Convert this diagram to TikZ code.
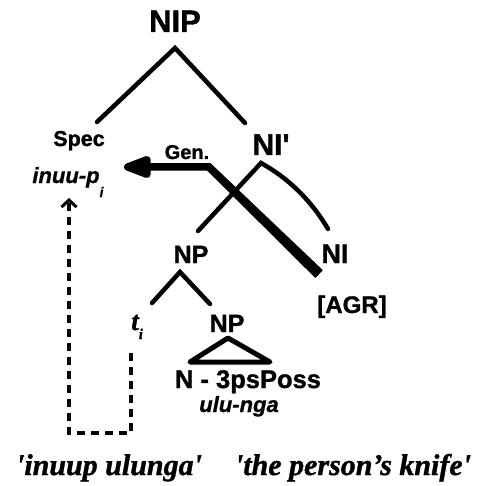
\documentclass[tikz,border=0pt]{standalone}
\usepackage{fontspec}
\setmainfont{Liberation Serif}
\newfontfamily\labfont{Liberation Sans}[Ligatures=TeXOff, BoldFeatures={FakeBold=1.2}, BoldItalicFeatures={FakeBold=0.8}]
\newfontfamily\glossfont{Liberation Serif}[Ligatures=TeXOff, BoldItalicFeatures={FakeBold=1.2}]
\usetikzlibrary{arrows.meta}
\begin{document}
\begin{tikzpicture}[x=1pt,y=-1pt,
  lab/.style={font=\labfont\bfseries\fontsize{#1}{#1}\selectfont, inner sep=0pt, anchor=base},
  itl/.style={font=\labfont\bfseries\itshape\fontsize{#1}{#1}\selectfont, inner sep=0pt, anchor=base},
  gloss/.style={font=\glossfont\bfseries\itshape\fontsize{#1}{#1}\selectfont, inner sep=0pt, anchor=base},
  branch/.style={line width=4.5pt, line cap=round},
  dashline/.style={line width=3.5pt, dash pattern=on 8pt off 6pt},
  genarrow/.style={line width=7.5pt, -{Triangle[length=35pt,width=23pt,round]}},
]
\useasboundingbox (0,0) rectangle (482,486);
\fill[white] (0,0) rectangle (482,486);

% labels
\node[lab=31] (nip) at (175,32) {NIP};
\node[lab=21.5] (spec) at (79,146) {Spec};
\node[itl=22] (inuu) at (66,183) {inuu-p\rlap{\kern0pt\raisebox{-14pt}{\fontsize{14}{14}\selectfont i}}};
\node[lab=30] (nibar) at (271,155) {NI'};
\node[lab=20] (gen) at (187,159) {Gen.};
\node[lab=25] (np) at (191,263) {NP};
\node[lab=27] (ni) at (335,263) {NI};
\node[gloss=27] (t) at (135,330) {t\rlap{\raisebox{-9pt}{\fontsize{15}{15}\selectfont i}}};
\node[lab=25] (np2) at (227,332) {NP};
\node[lab=24] (agr) at (352,313) {[AGR]};
\node[lab=25.5] (poss) at (248,388) {N - 3psPoss};
\node[itl=22] (ulu) at (239,412) {ulu-nga};
\node[gloss=30] (gl1) at (109,475) {'inuup ulunga'};
\node[gloss=30] (gl2) at (353,475) {'the person’s knife'};

% branch points
\coordinate (nipA) at (175,48);
\coordinate (nipL) at (97,122);
\coordinate (nipR) at (245,123);
\coordinate (nibA) at (261,163);
\coordinate (nibL) at (198,231);
\coordinate (nibR) at (328,229);
\coordinate (npA) at (180,272);
\coordinate (npL) at (152,303);
\coordinate (npR) at (210,304);
\coordinate (triA) at (228,338);
\coordinate (triL) at (190,362);
\coordinate (triR) at (270,362);

\draw[branch] (nipL) -- (nipA) -- (nipR);
\draw[branch] (nibL) -- (nibA) .. controls (288,178) and (311,200) .. (nibR);
\draw[branch] (npL) -- (npA) -- (npR);
\draw[line width=5pt, line join=round] (triA) -- (triL) -- (triR) -- cycle;

% genitive arrow
\coordinate (genS) at (319,274);
\coordinate (genB) at (209,167);
\coordinate (genT) at (124,167);
\draw[genarrow] (genS) -- (genB) -- (genT);
\fill[line join=round] (211.6,164.3) -- (322.8,270.1) -- (315.2,277.9) -- (206.4,169.7) -- cycle;

% movement path
\coordinate (mvS) at (131,353);
\coordinate (mvC1) at (131,433);
\coordinate (mvC2) at (69,433);
\coordinate (mvT) at (69,198);
\draw[dashline, -{Straight Barb[length=7pt,width=15pt,line width=3pt]}] (mvS) -- (mvC1) -- (mvC2) -- (mvT);
\end{tikzpicture}
\end{document}
